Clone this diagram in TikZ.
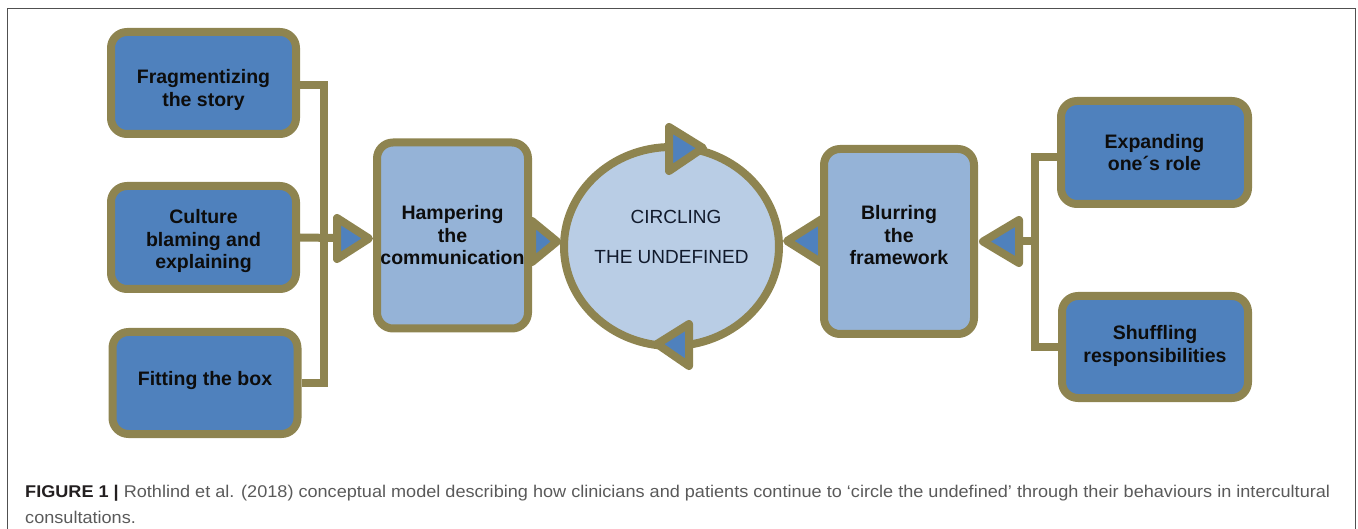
\documentclass[tikz,border=0pt]{standalone}
\usepackage{fontspec}
\setmainfont{Liberation Sans}
\usepackage{graphicx}
\usetikzlibrary{shapes.geometric}
\pgfdeclarelayer{bg}
\pgfsetlayers{bg,main}
\definecolor{brdr}{HTML}{8E8450}
\definecolor{dblue}{HTML}{4F81BD}
\definecolor{mblue}{HTML}{95B3D7}
\definecolor{lblue}{HTML}{B9CDE5}
\definecolor{txt}{HTML}{0D0D0D}
\definecolor{ctxt}{HTML}{111A2C}
\definecolor{capdark}{HTML}{231F20}
\definecolor{capgray}{HTML}{5A5A5A}
\definecolor{framec}{HTML}{505050}
\newsavebox\capboxA
\begin{document}
\sbox\capboxA{\fontsize{17}{20}\selectfont\textcolor{capdark}{\bfseries FIGURE 1 |} \textcolor{capgray}{Rothlind et al. (2018) conceptual model describing how clinicians and patients continue to ‘circle the undefined’ through their behaviours in intercultural}}%
\begin{tikzpicture}[x=1pt,y=-1pt,
  bline/.style={line width=8pt, draw=brdr},
  darkbox/.style={bline, fill=dblue, rounded corners=16pt, minimum width=185pt, minimum height=102pt, inner sep=0pt},
  midbox/.style={darkbox, fill=mblue, minimum width=151pt, minimum height=186pt},
  boxtext/.style={inner sep=0pt, align=center, font=\fontsize{19.5}{22.5}\selectfont\bfseries, text=txt},
  conn/.style={bline, line join=miter},
  tri/.style={bline, fill=dblue, line join=round},
  ctext/.style={anchor=base, inner sep=0pt, font=\fontsize{19}{22}\selectfont, text=ctxt},
  frame/.style={draw=framec, line width=1.5pt},
  captext/.style={anchor=base west, inner sep=0pt}
]
\useasboundingbox (0,0) rectangle (1358,529);
\draw[frame] (7.5,529) -- (7.5,8.5) -- (1355.5,8.5) -- (1355.5,529);

% left boxes
\node[darkbox] (frag) at (203.5,83) {};
\node[boxtext] (fragt) at ([yshift=-7pt]frag.center) {Fragmentizing\\the story};
\node[darkbox, minimum height=103pt] (cult) at (203.5,237.5) {};
\node[boxtext] (cultt) at ([yshift=-4pt]cult.center) {Culture\\blaming and\\explaining};
\node[darkbox] (fit) at (205,383) {};
\node[boxtext] (fitt) at ([yshift=2pt]fit.center) {Fitting the box};
% right boxes
\node[darkbox, minimum width=187pt, minimum height=103pt] (exp) at (1154.5,152.5) {};
\node[boxtext] (expt) at (exp.center) {Expanding\\one´s role};
\node[darkbox, minimum width=186pt] (shuf) at (1155,347) {};
\node[boxtext] (shuft) at ([yshift=1pt]shuf.center) {Shuffling\\responsibilities};
% middle boxes
\node[midbox] (hamp) at (452.5,235.5) {};
\node[boxtext] (hampt) at (hamp.center) {Hampering\\the\\communication};
\node[midbox, minimum width=150pt, minimum height=185pt] (blur) at (899,241.5) {};
\node[boxtext] (blurt) at ([yshift=6pt]blur.center) {Blurring\\the\\framework};
% circle
\node[bline, ellipse, fill=lblue, minimum width=215pt, minimum height=199pt, inner sep=0pt] (circ) at (671.5,246.5) {};
\node[ctext] (c1) at (676,223.5) {CIRCLING};
\node[ctext] (c2) at (671.5,263.5) {THE UNDEFINED};

% junction coordinates
\coordinate (lj) at (324,238);
\coordinate (rj) at (1035,241.5);
\coordinate (t1b) at (337,238);
\coordinate (t4b) at (1019,241.5);

\begin{pgfonlayer}{bg}
\draw[conn] (frag.east |- 0,85) -- (lj |- 0,85) -- (lj |- fit.east) -- (fit.east);
\draw[conn] (cult.east) -- (t1b);
\draw[conn] ([yshift=-4.5pt]exp.west) -- (rj |- 0,157) -- (rj |- shuf.west) -- (shuf.west);
\draw[conn] (rj) -- (t4b);
\end{pgfonlayer}

% arrowheads
\draw[tri] (337,218) -- (369,238.5) -- (337,259) -- cycle;
\draw[tri] (532,221) -- (557,241.5) -- (532,262) -- cycle;
\draw[tri] (822,219) -- (787,241) -- (822,263) -- cycle;
\draw[tri] (1019,220) -- (983,241.5) -- (1019,263) -- cycle;
\draw[tri] (669,127) -- (703,148) -- (669,171) -- cycle;
\draw[tri] (689,324) -- (657,344) -- (689,366) -- cycle;

% caption
\pgfmathsetmacro\capr{1305/\the\wd\capboxA}
\node[captext] (cap1) at (25,497) {\scalebox{\capr}[1]{\usebox\capboxA}};
\node[captext] (cap2) at (25,523) {\scalebox{\capr}[1]{\fontsize{17}{20}\selectfont\textcolor{capgray}{consultations.}}};
\end{tikzpicture}
\end{document}
